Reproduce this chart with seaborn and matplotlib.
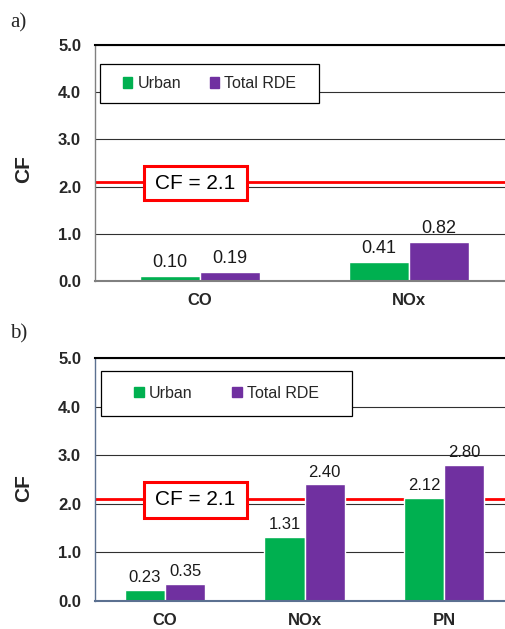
import pandas as pd
import numpy as np
import matplotlib
matplotlib.use("Agg")
import matplotlib.pyplot as plt
import seaborn as sns
from matplotlib.patches import Rectangle, Patch

# data
series = ["Urban", "Total RDE"]
pollutants_a = ["CO", "NOx"]
urban_a = [0.10, 0.41]
total_a = [0.19, 0.82]

pollutants_b = ["CO", "NOx", "PN"]
urban_b = [0.23, 1.31, 2.12]
total_b = [0.35, 2.40, 2.80]

cf_limit = 2.1
yticks = [0, 1, 2, 3, 4, 5]
colors = ["#00B050", "#7030A0"]

sns.set_theme(style="white")
plt.rcParams['font.family'] = ['Liberation Sans', 'DejaVu Sans']


def make_df(pollutants, urban, total):
    return pd.DataFrame({
        "Pollutant": pollutants * 2,
        "CF": urban + total,
        "Type": [series[0]] * len(pollutants) + [series[1]] * len(pollutants),
    })


def draw_panel(ax, df, xmax, spine_col, rect_y, box_y, label_y, lab_size, colsp):
    sns.barplot(data=df, x="Pollutant", y="CF", hue="Type", hue_order=series,
                palette=colors, width=0.574, saturation=1, legend=False, ax=ax,
                zorder=3)
    for c in ax.containers:
        ax.bar_label(c, fmt="%.2f", padding=3.5, fontsize=lab_size, color="#1a1a1a")

    ax.set_xlim(-0.502, xmax)
    ax.set_ylim(0, 5)
    ax.set_yticks(yticks)
    ax.set_yticklabels([f"{v:.1f}" for v in yticks], fontweight="bold", fontsize=12)
    ax.tick_params(axis="y", length=0, pad=10)
    ax.tick_params(axis="x", length=0, pad=8.5, labelsize=12)
    for t in ax.get_xticklabels():
        t.set_fontweight("bold")
    ax.set_xlabel("")
    ax.set_ylabel("CF", fontsize=15, fontweight="bold")
    ax.yaxis.set_label_coords(-0.151, label_y)

    ax.set_axisbelow(True)
    ax.yaxis.grid(True, color="#303030", lw=0.8)
    ax.xaxis.grid(False)
    ax.spines["right"].set_visible(False)
    ax.spines["top"].set_color("black")
    ax.spines["top"].set_linewidth(1.5)
    ax.spines["left"].set_color(spine_col)
    ax.spines["left"].set_linewidth(1.0)
    ax.spines["bottom"].set_color(spine_col)
    ax.spines["bottom"].set_linewidth(1.5)
    ax.spines["bottom"].set_zorder(4)

    # limit line
    ax.axhline(cf_limit, color="#FF0000", lw=2.0, zorder=2.5)

    # legend box
    x0, x1, y0, y1 = rect_y
    ax.add_patch(Rectangle((x0, y0), x1 - x0, y1 - y0, transform=ax.transAxes,
                           facecolor="white", edgecolor="black", lw=0.9, zorder=4))
    handles = [Patch(color=colors[i], label=series[i]) for i in range(2)]
    leg = ax.legend(handles=handles, ncol=2, frameon=False, loc="center",
                    bbox_to_anchor=((x0 + x1) / 2, (y0 + y1) / 2),
                    fontsize=11.5, handlelength=0.6, handleheight=0.6,
                    handletextpad=0.3, columnspacing=colsp,
                    borderpad=0, borderaxespad=0)
    leg.set_zorder(5)

    # CF = 2.1 box
    bx0, bx1, by0, by1 = box_y
    ax.add_patch(Rectangle((bx0, by0), bx1 - bx0, by1 - by0, transform=ax.transAxes,
                           facecolor="white", edgecolor="#FF0000", lw=2.2, zorder=4))
    ax.text((bx0 + bx1) / 2, (by0 + by1) / 2, "CF = 2.1", transform=ax.transAxes,
            ha="center", va="center", fontsize=15, color="black", zorder=5)


fig = plt.figure(figsize=(5.06, 6.29), dpi=100)
ax_a = fig.add_axes([0.1877, 0.5533, 0.8123, 0.3752])
ax_b = fig.add_axes([0.1877, 0.0445, 0.8123, 0.3863])

draw_panel(ax_a, make_df(pollutants_a, urban_a, total_a), 1.464, "#808080",
           (0.012, 0.545, 0.754, 0.919), (0.119, 0.370, 0.343, 0.487), 0.475, 13, 1.8)
draw_panel(ax_b, make_df(pollutants_b, urban_b, total_b), 2.444, "#5B7090",
           (0.0146, 0.625, 0.761, 0.947), (0.119, 0.370, 0.342, 0.490), 0.465, 12, 2.5)

fig.text(10 / 506, 1 - 23 / 629, "a)", fontsize=15, family="Liberation Serif", va="center")
fig.text(10 / 506, 1 - 334 / 629, "b)", fontsize=15, family="Liberation Serif", va="center")

fig.savefig("out.png", dpi=100)
